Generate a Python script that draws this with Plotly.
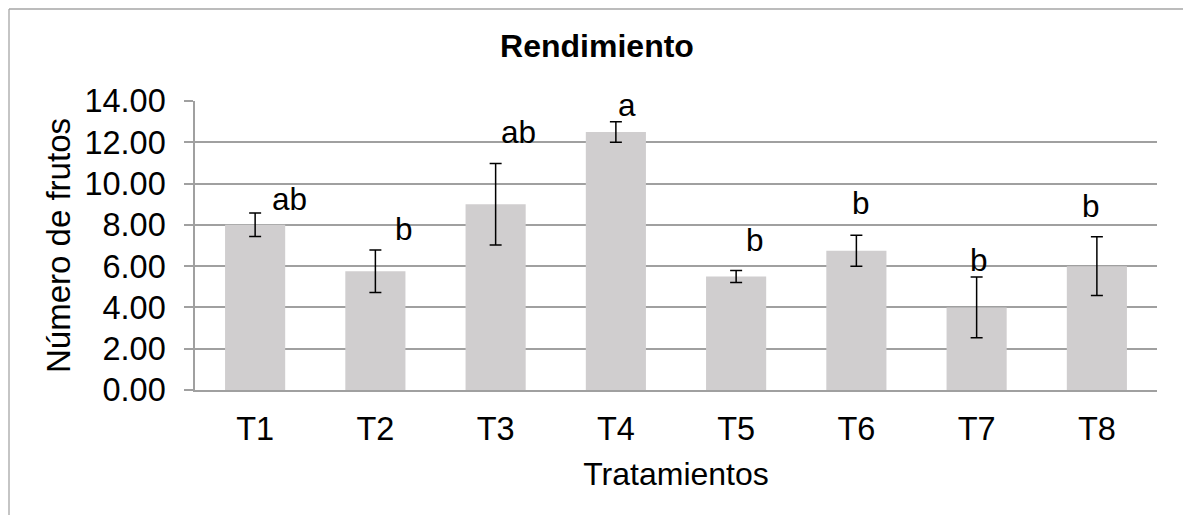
import plotly.graph_objects as go

categories = ["T1", "T2", "T3", "T4", "T5", "T6", "T7", "T8"]
values = [8.0, 5.75, 9.0, 12.5, 5.5, 6.75, 4.0, 6.0]
errors = [0.57, 1.03, 1.97, 0.5, 0.29, 0.75, 1.47, 1.42]
letters = ["ab", "b", "ab", "a", "b", "b", "b", "b"]
y_ticks = [0, 2, 4, 6, 8, 10, 12, 14]

# annotation placement (layout only)
letter_y = [9.25, 7.8, 12.52, 13.8, 7.29, 9.06, 6.32, 8.91]
letter_xshift = [34, 29, 23, 11, 19, 5, 2, -6]

FONT = "Liberation Sans, Arial, sans-serif"
GRID = "#A0A0A0"
FS = 32

fig = go.Figure()
fig.add_trace(go.Bar(
    x=categories, y=values,
    marker=dict(color="#D0CECF", line=dict(width=0)),
    error_y=dict(type="data", array=errors, visible=True,
                 color="#000000", thickness=1.5, width=6),
    showlegend=False,
))

for c, t, yy, xs in zip(categories, letters, letter_y, letter_xshift):
    fig.add_annotation(x=c, y=yy, text=t, showarrow=False, xshift=xs,
                       xanchor="center", yanchor="middle",
                       font=dict(family=FONT, size=31.5, color="#000000"))

L, R, T, B = 195, 26, 101, 125
W, H = 1183, 515
pw, ph = W - L - R, H - T - B

def px_x(p):
    return (p - L) / pw

def px_y(p):
    return (H - B - p) / ph

# outer frame (top and left edges)
fig.add_shape(type="line", xref="paper", yref="paper",
              x0=px_x(9), x1=px_x(W + 5), y0=px_y(9), y1=px_y(9),
              line=dict(color="#A6A6A6", width=1.3))
fig.add_shape(type="line", xref="paper", yref="paper",
              x0=px_x(9), x1=px_x(9), y0=px_y(9), y1=px_y(H + 5),
              line=dict(color="#A6A6A6", width=1.3))

fig.update_layout(
    width=W, height=H,
    margin=dict(l=L, r=R, t=T, b=B, autoexpand=False),
    paper_bgcolor="white", plot_bgcolor="white",
    bargap=0.5,
    font=dict(family=FONT, size=FS, color="#000000"),
    title=dict(text="<b>Rendimiento</b>", x=597 / W, xref="container", xanchor="center",
               y=1 - 46 / H, yref="container", yanchor="middle",
               font=dict(family=FONT, size=FS, color="#000000")),
)

fig.update_yaxes(
    range=[0, 14], tickvals=y_ticks, tickformat=".2f",
    showgrid=True, gridcolor=GRID, gridwidth=1.5,
    showline=True, linecolor=GRID, linewidth=1.5,
    ticks="outside", ticklen=9, tickcolor=GRID, tickwidth=1.5,
    ticklabelstandoff=12,
    zeroline=False,
    title=dict(text="Número de frutos", standoff=4,
               font=dict(family=FONT, size=33)),
    tickfont=dict(family=FONT, size=32.5),
)
fig.update_xaxes(
    showline=True, linecolor=GRID, linewidth=1.5,
    ticks="", ticklabelstandoff=9,
    title=dict(text="Tratamientos", standoff=17,
               font=dict(family=FONT, size=FS)),
    tickfont=dict(family=FONT, size=32.5),
)

fig.write_html("out.html",
               config={"displayModeBar": False},
               post_script="document.body.style.margin='0';document.body.style.overflow='hidden';")
